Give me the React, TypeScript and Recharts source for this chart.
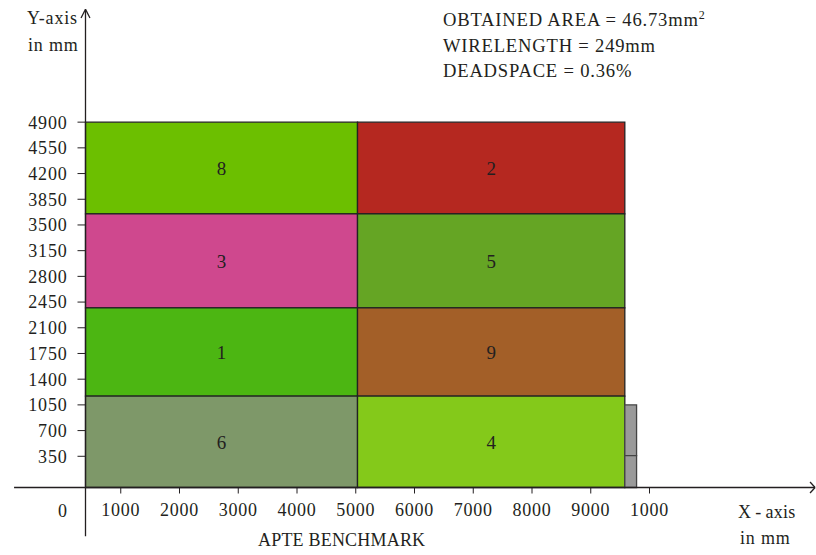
import { ComposedChart, XAxis, YAxis, ReferenceArea, ReferenceLine } from 'recharts';

// floorplan blocks (mm)
const blockNames = ['8', '2', '3', '5', '1', '9', '6', '4', '', ''];
const blockX1 = [400, 5030, 400, 5030, 400, 5030, 400, 5030, 9580, 9580];
const blockX2 = [5030, 9580, 5030, 9580, 5030, 9580, 5030, 9580, 9780, 9780];
const blockY1 = [3650, 3650, 2370, 2370, 1170, 1170, -75, -75, 360, -75];
const blockY2 = [4900, 4900, 3650, 3650, 2370, 2370, 1170, 1170, 1050, 360];
const blockColors = [
  '#6cbf00', '#b52820', '#cf488e', '#65a524', '#4cb612',
  '#a35f28', '#7e9869', '#84c91a', '#9a9a9a', '#9a9a9a',
];

const xTicks = [1000, 2000, 3000, 4000, 5000, 6000, 7000, 8000, 9000, 10000];
const xTickLabels = ['1000', '2000', '3000', '4000', '5000', '6000', '7000', '8000', '9000', '1000'];
const yTicks = [350, 700, 1050, 1400, 1750, 2100, 2450, 2800, 3150, 3500, 3850, 4200, 4550, 4900];

const infoLines = ['OBTAINED AREA = 46.73mm', 'WIRELENGTH = 249mm', 'DEADSPACE = 0.36%'];

const ink = '#231f20';
const font = '"Liberation Serif", "Times New Roman", serif';
const tickStyle = { fontSize: 18, fill: ink, fontFamily: font, letterSpacing: 0.8 };

const textStyle: React.CSSProperties = {
  position: 'absolute',
  fontFamily: font,
  fontSize: 18,
  letterSpacing: 0.8,
  color: ink,
  lineHeight: '18px',
  whiteSpace: 'nowrap',
};

export default function App() {
  return (
    <div style={{ position: 'absolute', left: 0, top: 0, width: 816, height: 555, background: '#fff' }}>
      <ComposedChart
        width={816}
        height={555}
        margin={{ top: 114.8, right: 49, bottom: 37.5, left: 25.5 }}
      >
        <XAxis
          type="number"
          dataKey="x"
          domain={[400, 12000]}
          allowDataOverflow
          ticks={xTicks}
          interval={0}
          tickFormatter={(v: number) => xTickLabels[xTicks.indexOf(v)]}
          axisLine={false}
          tickLine={{ stroke: ink }}
          tickSize={6}
          tickMargin={10}
          height={30}
          tick={tickStyle}
        />
        <YAxis
          type="number"
          dataKey="y"
          domain={[-75, 5000]}
          allowDataOverflow
          ticks={yTicks}
          interval={0}
          axisLine={false}
          tickLine={{ stroke: ink }}
          tickSize={8}
          tickMargin={10}
          width={60}
          tick={tickStyle}
        />
        {blockNames.map((name, i) => (
          <ReferenceArea
            key={i}
            x1={blockX1[i]}
            x2={blockX2[i]}
            y1={blockY1[i]}
            y2={blockY2[i]}
            fill={blockColors[i]}
            fillOpacity={1}
            stroke={i >= 8 ? '#444' : '#222'}
            strokeWidth={1.3}
            ifOverflow="visible"
            label={name ? { value: name, position: 'center', fill: ink, fontSize: 19, fontFamily: font } : undefined}
          />
        ))}
        {/* axis lines with open arrow heads */}
        <ReferenceLine segment={[{ x: 400, y: -740 }, { x: 400, y: 6437 }]} stroke={ink} strokeWidth={1.3} ifOverflow="visible" />
        <ReferenceLine segment={[{ x: 324, y: 6318 }, { x: 400, y: 6437 }]} stroke={ink} strokeWidth={1.3} ifOverflow="visible" />
        <ReferenceLine segment={[{ x: 476, y: 6318 }, { x: 400, y: 6437 }]} stroke={ink} strokeWidth={1.3} ifOverflow="visible" />
        <ReferenceLine segment={[{ x: -816, y: -75 }, { x: 12818, y: -75 }]} stroke={ink} strokeWidth={1.3} ifOverflow="visible" />
        <ReferenceLine segment={[{ x: 12733, y: 0 }, { x: 12818, y: -75 }]} stroke={ink} strokeWidth={1.3} ifOverflow="visible" />
        <ReferenceLine segment={[{ x: 12733, y: -150 }, { x: 12818, y: -75 }]} stroke={ink} strokeWidth={1.3} ifOverflow="visible" />
      </ComposedChart>

      <div style={{ ...textStyle, left: 27, top: 9 }}>Y-axis</div>
      <div style={{ ...textStyle, left: 28, top: 36 }}>in mm</div>

      {infoLines.map((line, i) => (
        <div key={i} style={{ ...textStyle, fontSize: 18.6, left: 443, top: 11 + i * 25.5 }}>
          {line}
          {i === 0 ? <sup style={{ fontSize: 12, lineHeight: 0 }}>2</sup> : null}
        </div>
      ))}

      <div style={{ ...textStyle, left: 58, top: 502 }}>0</div>
      <div style={{ ...textStyle, letterSpacing: 0.3, left: 738, top: 503 }}>X{'\u2009'}-{'\u2009'}axis</div>
      <div style={{ ...textStyle, left: 740, top: 529 }}>in mm</div>
      <div style={{ ...textStyle, letterSpacing: 0.2, left: 258, top: 531 }}>APTE BENCHMARK</div>
    </div>
  );
}
